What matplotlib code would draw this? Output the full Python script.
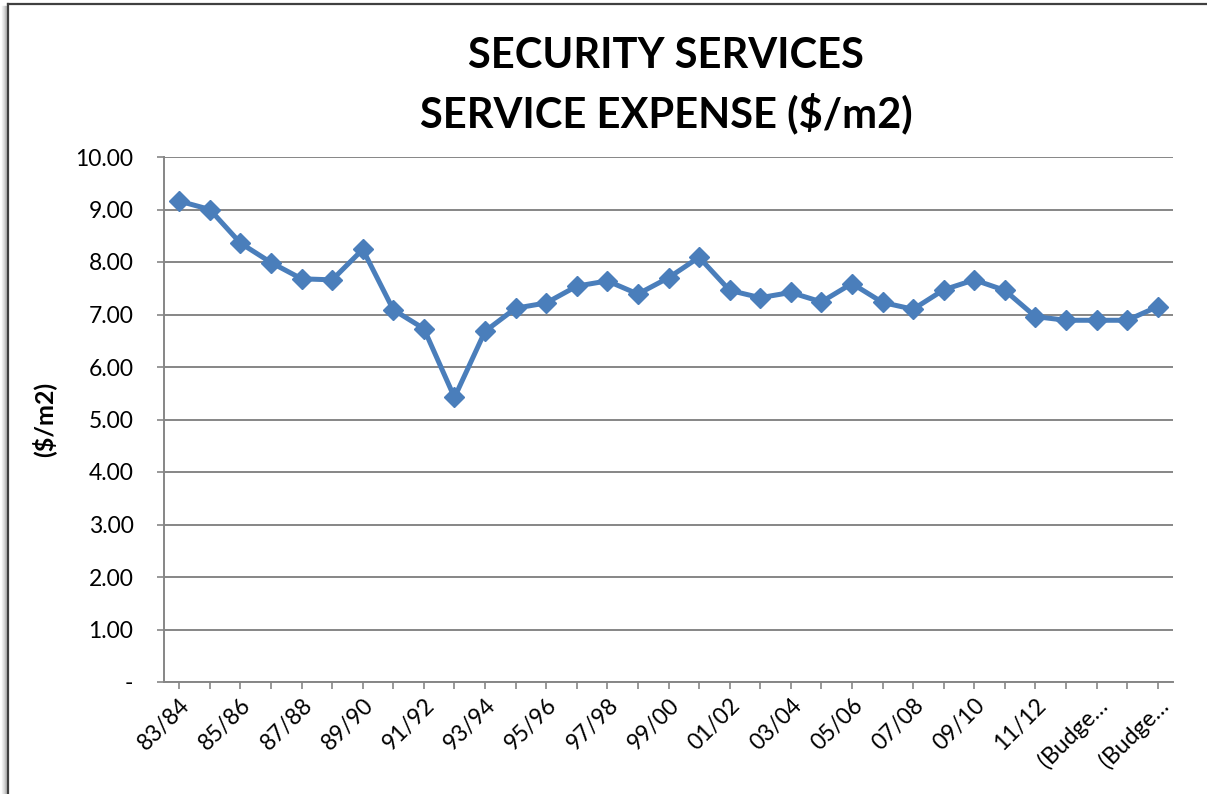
import matplotlib
matplotlib.use("Agg")
import matplotlib.pyplot as plt
from matplotlib.lines import Line2D

plt.rcParams['font.family'] = ['Lato', 'DejaVu Sans']

# Fiscal years (last ones are budget figures)
years = ["83/84", "84/85", "85/86", "86/87", "87/88", "88/89", "89/90", "90/91",
         "91/92", "92/93", "93/94", "94/95", "95/96", "96/97", "97/98", "98/99",
         "99/00", "00/01", "01/02", "02/03", "03/04", "04/05", "05/06", "06/07",
         "07/08", "08/09", "09/10", "10/11", "11/12", "12/13",
         "(Budge\u2026", "13/14", "(Budge\u2026"]

# Security service expense in $/m2
expense = [9.16, 9.00, 8.36, 7.99, 7.68, 7.66, 8.24, 7.09, 6.73, 5.42,
           6.68, 7.12, 7.22, 7.54, 7.64, 7.39, 7.70, 8.09, 7.46, 7.32,
           7.42, 7.24, 7.59, 7.23, 7.10, 7.47, 7.66, 7.46, 6.96, 6.89,
           6.89, 6.89, 7.15]

y_ticks = [0, 1, 2, 3, 4, 5, 6, 7, 8, 9, 10]
y_tick_labels = ["-"] + [f"{v:.2f}" for v in y_ticks[1:]]

line_color = "#4A7EBB"
grid_color = "#868686"

fig = plt.figure(figsize=(12.07, 7.94), dpi=100)
ax = fig.add_axes([164 / 1207, 1 - 682 / 794, (1173 - 164) / 1207, (682 - 157) / 794])

x = list(range(len(years)))
ax.plot(x, expense, color=line_color, lw=3.6, marker="D", ms=10,
        mec=line_color, mfc=line_color, solid_joinstyle="miter", zorder=3)

ax.set_xlim(-0.5, len(years) - 0.5)
ax.set_ylim(0, 10)
ax.set_yticks(y_ticks)
ax.set_yticklabels(y_tick_labels)
ax.yaxis.grid(True, color=grid_color, lw=1.4)
ax.set_axisbelow(True)

ax.set_xticks(x)
ax.set_xticklabels([lab if i % 2 == 0 else "" for i, lab in enumerate(years)],
                   rotation=45, ha="right", rotation_mode="anchor")

for side in ("top", "right"):
    ax.spines[side].set_visible(False)
for side in ("left", "bottom"):
    ax.spines[side].set_color(grid_color)
    ax.spines[side].set_linewidth(1.4)

ax.tick_params(axis="x", length=5, width=1.2, color=grid_color, labelsize=16.5,
               pad=4)
ax.tick_params(axis="y", length=5, width=1.2, color=grid_color, labelsize=16.5,
               pad=17)

ax.set_ylabel("($/m2)", fontsize=18, fontweight="bold")
ax.yaxis.set_label_coords((56 - 164) / 1009, 0.5)

fig.text(0.552, 1 - 56 / 794, "SECURITY SERVICES", ha="center", va="center",
         fontsize=30, fontweight="bold")
fig.text(0.552, 1 - 113 / 794, "SERVICE EXPENSE ($/m2)", ha="center",
         va="center", fontsize=30, fontweight="bold")

# Chart frame with a soft shadow on the left edge
for i, a in enumerate([0.05, 0.08, 0.12, 0.18, 0.25]):
    xs = (2 + i) / 1207
    fig.add_artist(Line2D([xs, xs], [0, 1 - 6 / 794], transform=fig.transFigure,
                          color="black", alpha=a, lw=1.0))
fig.add_artist(Line2D([7.5 / 1207, 7.5 / 1207], [0, 1 - 4 / 794],
                      transform=fig.transFigure, color="#404040", lw=1.6))
fig.add_artist(Line2D([7.5 / 1207, 1], [1 - 4 / 794, 1 - 4 / 794],
                      transform=fig.transFigure, color="#404040", lw=1.6))

fig.savefig("out.png", dpi=100)
